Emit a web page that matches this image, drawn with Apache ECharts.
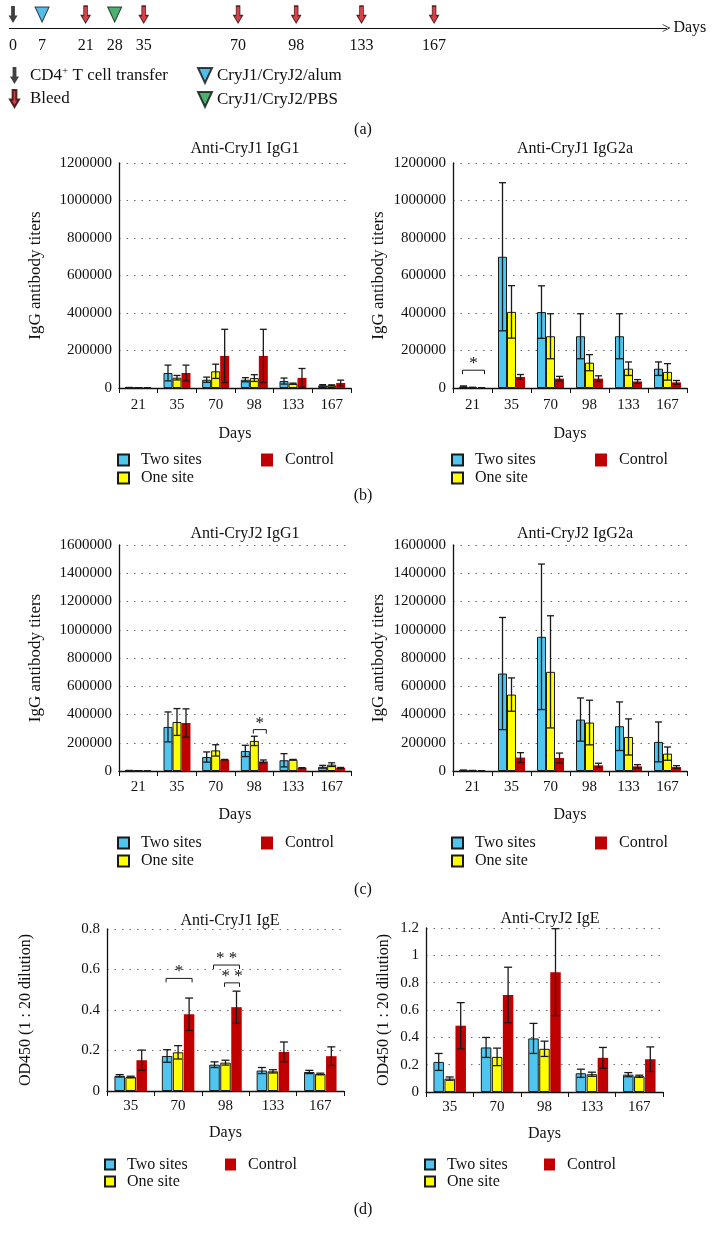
<!DOCTYPE html>
<html><head><meta charset="utf-8">
<script src="https://cdn.jsdelivr.net/npm/echarts@6/dist/echarts.min.js"></script>
<style>html,body{margin:0;padding:0;background:#fff}#c{width:716px;height:1240px}</style>
</head><body><div id="c"></div>
<script>
// ================= DATA =================
// (a) timeline
const timelineDays = ['0','7','21','28','35','70','98','133','167'];
const transferDays = ['0'];
const bleedDays = ['21','35','70','98','133','167'];
const alumDays = ['7'];
const pbsDays = ['28'];

// categories
const igDays = ['21','35','70','98','133','167'];
const igeDays = ['35','70','98','133','167'];
const groupNames = ['Two sites','One site','Control'];

// (b) Anti-CryJ1 IgG1
const j1IgG1Two = [2000, 80000, 44000, 44000, 37000, 14000];
const j1IgG1TwoErr = [1000, 42000, 14000, 11000, 16000, 4000];
const j1IgG1One = [1000, 55000, 89000, 53000, 23000, 14000];
const j1IgG1OneErr = [500, 12000, 38000, 18000, 3000, 3000];
const j1IgG1Ctrl = [1000, 80000, 171000, 171000, 54000, 27000];
const j1IgG1CtrlErr = [500, 42000, 142000, 142000, 50000, 15000];

// (b) Anti-CryJ1 IgG2a
const j1IgG2aTwo = [8000, 700000, 405000, 276000, 276000, 103000];
const j1IgG2aTwoErr = [3000, 395000, 140000, 120000, 120000, 36000];
const j1IgG2aOne = [3000, 406000, 276000, 135000, 103000, 86000];
const j1IgG2aOneErr = [1000, 140000, 120000, 43000, 36000, 44000];
const j1IgG2aCtrl = [1000, 59000, 50000, 50000, 35000, 30000];
const j1IgG2aCtrlErr = [500, 13000, 12000, 15000, 10000, 10000];

// (c) Anti-CryJ2 IgG1
const j2IgG1Two = [3000, 312000, 99000, 142000, 76000, 30000];
const j2IgG1TwoErr = [1000, 106000, 36000, 40000, 47000, 10000];
const j2IgG1One = [2000, 347000, 146000, 213000, 80000, 45000];
const j2IgG1OneErr = [500, 95000, 40000, 33000, 2000, 13000];
const j2IgG1Ctrl = [1000, 340000, 80000, 68000, 22000, 22000];
const j2IgG1CtrlErr = [500, 100000, 2000, 10000, 2000, 3000];

// (c) Anti-CryJ2 IgG2a
const j2IgG2aTwo = [5000, 690000, 950000, 364000, 317000, 206000];
const j2IgG2aTwoErr = [1000, 397000, 515000, 153000, 172000, 141000];
const j2IgG2aOne = [3000, 541000, 702000, 343000, 241000, 123000];
const j2IgG2aOneErr = [1000, 118000, 397000, 158000, 128000, 47000];
const j2IgG2aCtrl = [2000, 95000, 92000, 40000, 33000, 28000];
const j2IgG2aCtrlErr = [500, 35000, 35000, 15000, 12000, 10000];

// (d) Anti-CryJ1 IgE (OD450)
const j1IgETwo = [0.075, 0.173, 0.130, 0.101, 0.094];
const j1IgETwoErr = [0.006, 0.031, 0.014, 0.015, 0.008];
const j1IgEOne = [0.069, 0.191, 0.140, 0.097, 0.084];
const j1IgEOneErr = [0.004, 0.033, 0.012, 0.008, 0.004];
const j1IgECtrl = [0.152, 0.379, 0.414, 0.193, 0.172];
const j1IgECtrlErr = [0.050, 0.080, 0.079, 0.049, 0.046];

// (d) Anti-CryJ2 IgE (OD450)
const j2IgETwo = [0.220, 0.326, 0.392, 0.137, 0.127];
const j2IgETwoErr = [0.062, 0.073, 0.110, 0.030, 0.015];
const j2IgEOne = [0.098, 0.257, 0.316, 0.130, 0.115];
const j2IgEOneErr = [0.012, 0.064, 0.056, 0.015, 0.008];
const j2IgECtrl = [0.485, 0.710, 0.877, 0.250, 0.240];
const j2IgECtrlErr = [0.169, 0.203, 0.318, 0.076, 0.090];

// significance brackets: [day, level, fromGroup, toGroup, mark]
const j1IgG2aSig = [['21', 95000, 0, 2, '*']];
const j2IgG1Sig = [['98', 293000, 1, 2, '*']];
const j1IgESig = [['70', 0.556, 0, 2, '*'], ['98', 0.622, 0, 2, '* *'], ['98', 0.534, 1, 2, '* *']];

// ================= LAYOUT / STYLE =================
const FONT = '"Liberation Serif", "Times New Roman", serif';
const INK = '#111';
const COLORS = ['#4FC6F0', '#FFFF00', '#C00000'];
const slotGaps = [4, 6, 4, 4, 13, 8, 9, 10]; // schematic spacing of the timeline
const slotOf = {};
(function(){ let s = 0; timelineDays.forEach((d, i) => { if (i > 0) s += slotGaps[i-1]; slotOf[d] = s; }); })();
const dayOfSlot = {};
Object.keys(slotOf).forEach(d => { dayOfSlot[slotOf[d]] = d; });

const arrowPath = 'path://M2.6,0 L6.4,0 L6.4,9.5 L9,9.5 L4.5,17 L0,9.5 L2.6,9.5 Z';
const triPath = 'path://M0,0 L14,0 L7,15 Z';

const panels = [
  { title:'Anti-CryJ1 IgG1', titleX:240, titleTop:136, cats:igDays,
    vals:[[j1IgG1Two,j1IgG1TwoErr],[j1IgG1One,j1IgG1OneErr],[j1IgG1Ctrl,j1IgG1CtrlErr]],
    max:1200000, grid:{left:119, top:163, width:232, height:225}, yName:'IgG antibody titers', yNameGap:75, yNameSize:17,
    barW:9, gap:0, cap:3.5, sig:[], nameGap:38, labMargin:10, legTop:446, legLeft:[112,256], lh:18, blueIcon:11, redIcon:[12,13] },
  { title:'Anti-CryJ1 IgG2a', titleX:570, titleTop:136, cats:igDays,
    vals:[[j1IgG2aTwo,j1IgG2aTwoErr],[j1IgG2aOne,j1IgG2aOneErr],[j1IgG2aCtrl,j1IgG2aCtrlErr]],
    max:1200000, grid:{left:453, top:163, width:234, height:225}, yName:'IgG antibody titers', yNameGap:66, yNameSize:17,
    barW:9, gap:0, cap:3.5, sig:j1IgG2aSig, nameGap:38, labMargin:10, legTop:446, legLeft:[446,590], lh:18, blueIcon:11, redIcon:[12,13] },
  { title:'Anti-CryJ2 IgG1', titleX:240, titleTop:521, cats:igDays,
    vals:[[j2IgG1Two,j2IgG1TwoErr],[j2IgG1One,j2IgG1OneErr],[j2IgG1Ctrl,j2IgG1CtrlErr]],
    max:1600000, grid:{left:119, top:545, width:232, height:226}, yName:'IgG antibody titers', yNameGap:75, yNameSize:17,
    barW:9, gap:0, cap:3.5, sig:j2IgG1Sig, nameGap:36, labMargin:9, legTop:829, legLeft:[112,256], lh:18, blueIcon:11, redIcon:[12,13] },
  { title:'Anti-CryJ2 IgG2a', titleX:570, titleTop:521, cats:igDays,
    vals:[[j2IgG2aTwo,j2IgG2aTwoErr],[j2IgG2aOne,j2IgG2aOneErr],[j2IgG2aCtrl,j2IgG2aCtrlErr]],
    max:1600000, grid:{left:453, top:545, width:234, height:226}, yName:'IgG antibody titers', yNameGap:66, yNameSize:17,
    barW:9, gap:0, cap:3.5, sig:[], nameGap:36, labMargin:9, legTop:829, legLeft:[446,590], lh:18, blueIcon:11, redIcon:[12,13] },
  { title:'Anti-CryJ1 IgE', titleX:225, titleTop:908, cats:igeDays,
    vals:[[j1IgETwo,j1IgETwoErr],[j1IgEOne,j1IgEOneErr],[j1IgECtrl,j1IgECtrlErr]],
    max:0.8, grid:{left:107, top:929, width:237, height:162}, yName:'OD450 (1 : 20 dilution)', yNameGap:73, yNameSize:16,
    barW:10.5, gap:0.5, cap:4, sig:j1IgESig, nameGap:34, labMargin:8, legTop:1151, legLeft:[99,220], lh:17, blueIcon:10, redIcon:[11,12] },
  { title:'Anti-CryJ2 IgE', titleX:545, titleTop:906, cats:igeDays,
    vals:[[j2IgETwo,j2IgETwoErr],[j2IgEOne,j2IgEOneErr],[j2IgECtrl,j2IgECtrlErr]],
    max:1.2, grid:{left:426, top:928, width:237, height:164}, yName:'OD450 (1 : 20 dilution)', yNameGap:34, yNameSize:16,
    barW:10.5, gap:0.5, cap:4, sig:[], nameGap:34, labMargin:8, legTop:1151, legLeft:[419,539], lh:17, blueIcon:10, redIcon:[11,12] }
];

// ================= OPTION =================
const option = {
  animation:false,
  backgroundColor:'#fff',
  textStyle:{fontFamily:FONT, color:INK},
  title:[], grid:[], xAxis:[], yAxis:[], series:[], legend:[]
};

// panel letters
[['(a)',117],['(b)',483],['(c)',877],['(d)',1197]].forEach(([t,top]) => {
  option.title.push({text:t, left:358, top:top, textAlign:'center',
    textStyle:{fontFamily:FONT, fontSize:16, fontWeight:'normal', color:INK}});
});

// ---- timeline (a) ----
option.grid.push({left:9.4, top:0, width:657, height:28});
option.xAxis.push({
  type:'value', gridIndex:0, min:-0.5, max:90, interval:0.5,
  name:'Days', nameLocation:'end', nameGap:7,
  nameTextStyle:{fontFamily:FONT, fontSize:16, color:INK, verticalAlign:'middle'},
  axisLine:{show:true, lineStyle:{color:INK, width:1.2}, symbol:['none','path://M0,10 L5,0 L10,10 L9.2,10.6 L5,2.2 L0.8,10.6 Z'], symbolSize:[9,8]},
  axisTick:{show:false}, splitLine:{show:false},
  axisLabel:{margin:10, fontFamily:FONT, fontSize:16, color:INK, interval:0,
    formatter:v => { const k = Math.round(v * 2) / 2; return dayOfSlot[k] !== undefined ? dayOfSlot[k] : ''; }}
});
option.yAxis.push({type:'value', gridIndex:0, min:0, max:1, show:false});
const tl = (name, days, symbol, size, style) => ({
  type:'scatter', name:name, xAxisIndex:0, yAxisIndex:0, symbol:symbol, symbolSize:size,
  data:days.map(d => [slotOf[d], 0.48]), itemStyle:style, z:5
});
option.series.push(tl('CD4+ T cell transfer', transferDays, arrowPath, [9,17], {color:'#111'}));
option.series.push(tl('Bleed', bleedDays, arrowPath, [9,17], {color:'#C8141C', borderColor:'#2a0000', borderWidth:1}));
option.series.push(tl('CryJ1/CryJ2/alum', alumDays, triPath, [14,15], {color:'#2BAAE2', borderColor:'#111', borderWidth:1}));
option.series.push(tl('CryJ1/CryJ2/PBS', pbsDays, triPath, [14,15], {color:'#1E9E4A', borderColor:'#111', borderWidth:1}));
option.legend.push({
  data:['CD4+ T cell transfer','Bleed'], orient:'vertical', left:4, top:61, itemWidth:9, itemHeight:17, itemGap:5,
  selectedMode:false,
  formatter:n => n.replace('CD4+', 'CD4{sup|+}'),
  textStyle:{fontFamily:FONT, fontSize:17, color:INK, padding:[0,0,0,6],
    rich:{sup:{fontFamily:FONT, fontSize:11, color:INK, verticalAlign:'bottom', padding:[0,0,8,0]}}}
});
option.legend.push({
  data:['CryJ1/CryJ2/alum','CryJ1/CryJ2/PBS'], orient:'vertical', left:192, top:62, itemWidth:14, itemHeight:15, itemGap:7,
  selectedMode:false,
  textStyle:{fontFamily:FONT, fontSize:17, color:INK, padding:[0,0,0,0]}
});

// ---- bar panels ----
function errRender(p){
  return function(params, api){
    const ci = api.value(0), bi = api.value(1), v = api.value(2), e = api.value(3);
    const c = api.coord([ci, v]);
    const xc = c[0] + (bi - 1) * (p.barW + p.gap);
    const yT = api.coord([ci, v + e])[1];
    const yB = api.coord([ci, Math.max(v - e, 0)])[1];
    const st = {stroke:'#1a1a1a', lineWidth:1.3};
    return {type:'group', children:[
      {type:'line', shape:{x1:xc, y1:yT, x2:xc, y2:yB}, style:st},
      {type:'line', shape:{x1:xc - p.cap, y1:yT, x2:xc + p.cap, y2:yT}, style:st},
      {type:'line', shape:{x1:xc - p.cap, y1:yB, x2:xc + p.cap, y2:yB}, style:st}
    ]};
  };
}
function sigRender(p){
  return function(params, api){
    const b = p.sig[params.dataIndex];
    const ci = p.cats.indexOf(b[0]);
    const c = api.coord([ci, b[1]]);
    const x1 = c[0] + (b[2] - 1) * (p.barW + p.gap) - 1;
    const x2 = c[0] + (b[3] - 1) * (p.barW + p.gap) + 3;
    const y = c[1];
    return {type:'group', children:[
      {type:'polyline', shape:{points:[[x1, y + 4], [x1, y], [x2, y], [x2, y + 4]]}, style:{stroke:'#1a1a1a', lineWidth:1, fill:'none'}},
      {type:'text', x:(x1 + x2) / 2, y:y + 2, style:{text:b[4], align:'center', verticalAlign:'bottom', font:'17px ' + FONT, fill:INK}}
    ]};
  };
}

panels.forEach((p, k) => {
  const gi = k + 1;
  option.title.push({text:p.title, left:p.titleX, top:p.titleTop, textAlign:'center',
    textStyle:{fontFamily:FONT, fontSize:16, fontWeight:'normal', color:INK}});
  option.grid.push(p.grid);
  option.xAxis.push({
    type:'category', gridIndex:gi, data:p.cats, boundaryGap:true,
    name:'Days', nameLocation:'middle', nameGap:p.nameGap,
    nameTextStyle:{fontFamily:FONT, fontSize:16, color:INK},
    axisLine:{lineStyle:{color:INK, width:1.3}},
    axisTick:{show:true, length:5, lineStyle:{color:INK, width:1}},
    axisLabel:{margin:p.labMargin, fontFamily:FONT, fontSize:15, color:INK}
  });
  option.yAxis.push({
    type:'value', gridIndex:gi, min:0, max:p.max, interval:0.2 * (p.max >= 10 ? 1000000 : 1),
    name:p.yName, nameLocation:'middle', nameGap:p.yNameGap, nameRotate:90,
    nameTextStyle:{fontFamily:FONT, fontSize:p.yNameSize, color:INK},
    axisLine:{show:true, lineStyle:{color:INK, width:1.3}},
    axisTick:{show:false},
    axisLabel:{margin:7, fontFamily:FONT, fontSize:15, color:INK, formatter:v => String(v)},
    splitLine:{show:true, lineStyle:{type:[1.5,6], color:'#6a6a6a', width:1.2}}
  });
  p.vals.forEach((pair, bi) => {
    option.series.push({
      type:'bar', name:groupNames[bi], xAxisIndex:gi, yAxisIndex:gi,
      barWidth:p.barW, barGap:(p.gap / p.barW * 100) + '%',
      data:pair[0],
      itemStyle: bi < 2 ? {color:COLORS[bi], borderColor:'#1a1a1a', borderWidth:1} : {color:COLORS[bi], borderWidth:0},
      z:2
    });
  });
  const errData = [];
  p.vals.forEach((pair, bi) => pair[0].forEach((v, ci) => errData.push([ci, bi, v, pair[1][ci]])));
  option.series.push({
    type:'custom', xAxisIndex:gi, yAxisIndex:gi, renderItem:errRender(p),
    data:errData, encode:{x:0, y:2}, z:4, silent:true
  });
  if (p.sig.length) {
    option.series.push({
      type:'custom', xAxisIndex:gi, yAxisIndex:gi, renderItem:sigRender(p),
      data:p.sig.map(b => [p.cats.indexOf(b[0]), b[1]]), encode:{x:0, y:1}, z:4, silent:true
    });
  }
  const legText = {fontFamily:FONT, fontSize:16, color:INK, lineHeight:p.lh, padding:[0,0,0,7]};
  option.legend.push({
    data:['Two sites','One site'], orient:'vertical', left:p.legLeft[0], top:p.legTop,
    icon:'rect', itemWidth:p.blueIcon, itemHeight:p.blueIcon, itemGap:0, selectedMode:false, textStyle:legText
  });
  option.legend.push({
    data:['Control'], orient:'vertical', left:p.legLeft[1], top:p.legTop,
    icon:'rect', itemWidth:p.redIcon[0], itemHeight:p.redIcon[1], itemGap:0, selectedMode:false, textStyle:legText
  });
});

const chart = echarts.init(document.getElementById('c'), null, {renderer:'canvas'});
chart.setOption(option);
</script>
</body></html>
